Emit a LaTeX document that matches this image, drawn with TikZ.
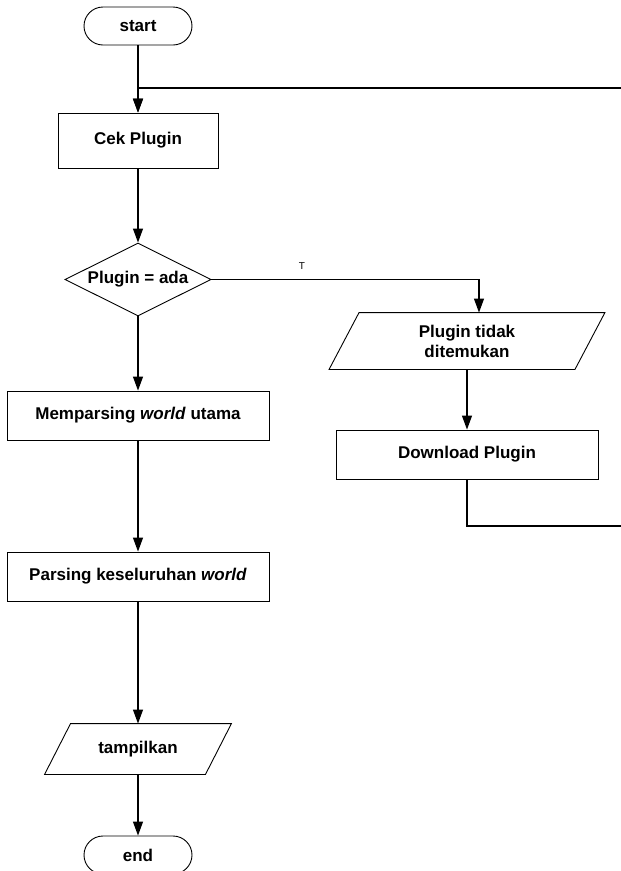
\documentclass[tikz,border=0pt]{standalone}
\usepackage{fontspec}
\setmainfont{Liberation Sans}
\usetikzlibrary{shapes.geometric,arrows.meta}

% slanted input/output outline around a (borderless) node
\newcommand\slantbox[2]{%
  \draw[line width=0.9pt] ([xshift=#2]#1.north west) -- ([xshift=#2]#1.north east)
    -- ([xshift=-#2]#1.south east) -- ([xshift=-#2]#1.south west) -- cycle;}

\begin{document}
\begin{tikzpicture}[x=1pt,y=1pt,
  base/.style={font=\fontsize{17}{20}\selectfont\bfseries, draw=black,
               line width=0.9pt, inner sep=0pt, align=center},
  term/.style={base, rounded corners=19pt, minimum width=108pt, minimum height=38pt},
  procbox/.style={base, minimum height=49pt},
  decide/.style={base, diamond, aspect=2, minimum width=146pt, minimum height=73pt},
  iobox/.style={base, draw=none},
  flow/.style={line width=1.2pt, -{Triangle[length=14pt,width=10pt]}},
  link/.style={line width=1.2pt}
]
\useasboundingbox (0,0) rectangle (621,-871);
\fill[white] (0,0) rectangle (621,-871);

% main column
\node[term] (start) at (138,-26) {start};
\node[procbox, minimum width=160pt, minimum height=55pt] (cek) at (138,-140.5) {Cek Plugin};
\node[decide] (dec) at (138,-279.5) {Plugin = ada};
\node[procbox, minimum width=262pt] (mem) at (138,-415.5) {Memparsing \textit{world} utama};
\node[procbox, minimum width=262pt] (pars) at (138,-576.5) {Parsing keseluruhan \textit{world}};
\node[iobox, minimum width=160pt, minimum height=50pt] (show) at (138,-749) {tampilkan};
\slantbox{show}{13pt}
\node[term] (end) at (138,-855) {end};

% right branch
\node[iobox, minimum width=245pt, minimum height=56pt] (tidak) at (467,-341) {Plugin tidak\\ditemukan};
\slantbox{tidak}{15pt}
\node[procbox, minimum width=262pt] (dl) at (467,-454.5) {Download Plugin};
\node[font=\fontsize{10}{12}\selectfont] (tlabel) at (302,-266) {T};

% loop-back route leaves past the right edge
\coordinate (r1) at (632,-526);
\coordinate (r2) at (632,-88);

% connectors
\draw[flow] (start.south) -- (cek.north);
\draw[flow] (cek.south) -- (dec.north);
\draw[flow] (dec.south) -- (mem.north);
\draw[flow] (mem.south) -- (pars.north);
\draw[flow] (pars.south) -- (show.north);
\draw[flow] (show.south) -- (end.north);
\draw[flow] (dec.east) -| ([xshift=12pt]tidak.north);
\draw[flow] (tidak.south) -- (dl.north);
\draw[flow] (dl.south) |- (r1) -- (r2) -| (cek.north);
\end{tikzpicture}
\end{document}
